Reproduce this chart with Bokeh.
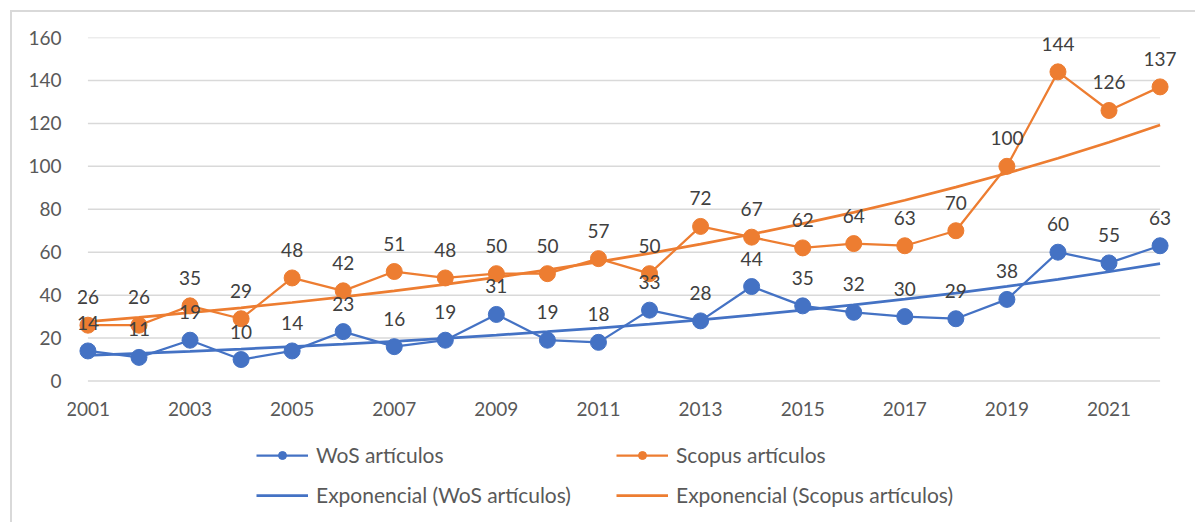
import numpy as np
from bokeh.plotting import figure
from bokeh.models import (ColumnDataSource, Legend, LegendItem, FixedTicker, Range1d,
                          LabelSet)
from bokeh.core.properties import value
from bokeh.embed import file_html
from bokeh.resources import INLINE

years = list(range(2001, 2023))
wos = [14, 11, 19, 10, 14, 23, 16, 19, 31, 19, 18, 33, 28, 44, 35, 32, 30, 29, 38, 60, 55, 63]
scopus = [26, 26, 35, 29, 48, 42, 51, 48, 50, 50, 57, 50, 72, 67, 62, 64, 63, 70, 100, 144, 126, 137]
x_ticks = list(range(2001, 2022, 2))
y_ticks = [0, 20, 40, 60, 80, 100, 120, 140, 160]

BLUE = "#4472C4"
ORANGE = "#ED7D31"
FONT = "Lato"

def expfit(xs, ys):
    xs = np.array(xs, dtype=float)
    b, a = np.polyfit(xs - xs[0], np.log(np.array(ys, dtype=float)), 1)
    return list(np.exp(a + b * (xs - xs[0])))

wos_trend = expfit(years, wos)
sc_trend = expfit(years, scopus)

src = ColumnDataSource(dict(x=years, wos=wos, sc=scopus,
                            wos_t=wos_trend, sc_t=sc_trend,
                            wos_l=[str(v) for v in wos], sc_l=[str(v) for v in scopus]))

W, H = 1185, 512
TOP = 25
PX_PER_UNIT = 343.5 / 160.0
ymin = 160 - (H - TOP) / PX_PER_UNIT

pad = 0.4
p = figure(width=W, height=H, output_backend="svg", toolbar_location=None,
           x_range=Range1d(years[0] - pad, years[-1] + pad), y_range=Range1d(ymin, 160),
           min_border_left=55, min_border_right=17, min_border_top=TOP, min_border_bottom=0)
p.styles = {"margin-left": "10px", "margin-top": "10px",
            "border-left": "2px solid #d9d9d9", "border-top": "2px solid #d9d9d9"}
p.outline_line_color = None
p.xgrid.grid_line_color = None
p.ygrid.grid_line_color = None

# horizontal gridlines spanning the category extent only
p.segment(x0=[years[0]] * len(y_ticks), x1=[years[-1]] * len(y_ticks),
          y0=y_ticks, y1=y_ticks, line_color="#d9d9d9", line_width=1.5)

p.yaxis.ticker = FixedTicker(ticks=y_ticks)
p.xaxis.ticker = FixedTicker(ticks=x_ticks)
p.xaxis.fixed_location = 0
for ax in (p.xaxis[0], p.yaxis[0]):
    ax.axis_line_color = None
    ax.major_tick_line_color = None
    ax.minor_tick_line_color = None
    ax.major_label_text_font = FONT
    ax.major_label_text_font_size = "19px"
    ax.major_label_text_color = "#595959"
p.yaxis.major_label_standoff = 0
p.xaxis.major_label_standoff = 15

# trend lines
tw = p.line("x", "wos_t", source=src, line_color=BLUE, line_width=2.75)
ts = p.line("x", "sc_t", source=src, line_color=ORANGE, line_width=2.75)

# data series
lw = p.line("x", "wos", source=src, line_color=BLUE, line_width=2.25)
cw = p.scatter("x", "wos", source=src, size=16, fill_color=BLUE, line_color=BLUE)
ls = p.line("x", "sc", source=src, line_color=ORANGE, line_width=2.25)
cs = p.scatter("x", "sc", source=src, size=16, fill_color=ORANGE, line_color=ORANGE)

for col, lab in (("wos", "wos_l"), ("sc", "sc_l")):
    p.add_layout(LabelSet(x="x", y=col, text=lab, source=src, text_align="center",
                          text_baseline="alphabetic", y_offset=21, text_font=value(FONT),
                          text_font_size=value("19px"), text_color=value("#404040")))

legend = Legend(items=[
    LegendItem(label="WoS artículos", renderers=[lw, cw]),
    LegendItem(label="Exponencial (WoS artículos)", renderers=[tw]),
    LegendItem(label="Scopus artículos", renderers=[ls, cs]),
    LegendItem(label="Exponencial (Scopus artículos)", renderers=[ts]),
], ncols=2, location=(189, 17), border_line_color=None, background_fill_alpha=0,
    label_text_font=FONT, label_text_font_size="21px", label_text_color="#595959",
    glyph_width=52, glyph_height=20, label_height=20, label_width=285, spacing=15,
    label_standoff=8, padding=0, margin=0)
p.add_layout(legend, "center")

open("out.html", "w").write(file_html(p, INLINE))
